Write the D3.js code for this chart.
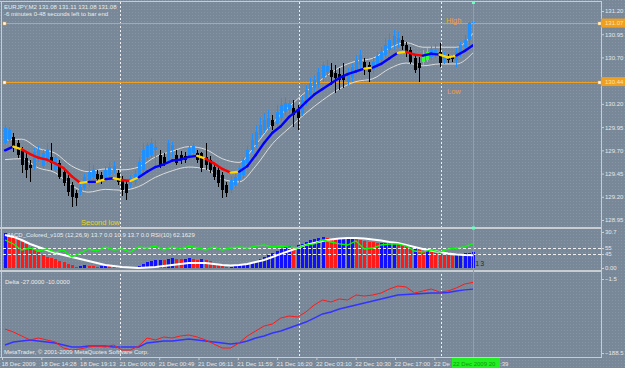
<!DOCTYPE html>
<html><head><meta charset="utf-8">
<script src="https://cdn.jsdelivr.net/npm/d3@7"></script>
<style>
body{margin:0;background:#778899;overflow:hidden}
svg{display:block}
text{font-family:"Liberation Sans",Arial,sans-serif}
</style>
</head><body>
<svg id="c" width="625" height="368"></svg>
<script>
// ---------- DATA ----------
const openP=[129.78,129.81,129.84,129.78,129.71,129.62,129.54,129.52,129.62,129.53,
129.60,129.63,129.49,129.56,129.47,129.40,129.33,129.24,129.25,129.29,
129.38,129.41,129.44,129.43,129.40,129.43,129.49,129.46,129.38,129.34,
129.33,129.36,129.41,129.49,129.63,129.65,129.70,129.65,129.63,129.60,
129.70,129.65,129.65,129.64,129.63,129.67,129.67,129.67,129.63,129.60,
129.52,129.49,129.43,129.33,129.27,129.33,129.38,129.43,129.56,129.70,
129.76,129.86,129.92,129.95,130.03,129.98,130.05,130.11,130.13,130.16,
130.13,130.10,130.21,130.30,130.37,130.40,130.48,130.54,130.56,130.53,
130.52,130.51,130.44,130.48,130.56,130.62,130.65,130.62,130.56,130.62,
130.67,130.73,130.78,130.83,130.87,130.89,130.83,130.78,130.69,130.64,
130.65,130.67,130.70,130.73,130.76,130.67,130.72,130.70,130.67,130.75,
130.81,130.89,131.08];
const highP=[129.97,129.95,129.89,129.81,129.74,129.67,129.60,129.72,129.75,129.70,
129.78,129.78,129.65,129.60,129.51,129.43,129.36,129.27,129.34,129.44,
129.57,129.54,129.49,129.47,129.53,129.57,129.59,129.49,129.42,129.37,
129.43,129.49,129.63,129.78,129.79,129.83,129.81,129.70,129.67,129.81,
129.79,129.70,129.69,129.68,129.76,129.78,129.70,129.68,129.78,129.64,
129.55,129.52,129.47,129.36,129.42,129.46,129.54,129.63,129.75,129.89,
129.97,130.06,130.10,130.13,130.08,130.19,130.26,130.27,130.24,130.24,
130.19,130.30,130.40,130.48,130.51,130.59,130.65,130.67,130.64,130.62,
130.59,130.64,130.59,130.64,130.73,130.78,130.69,130.65,130.69,130.76,
130.81,130.91,130.96,131.00,130.97,130.93,130.87,130.81,130.73,130.70,
130.78,130.80,130.82,130.84,130.86,130.76,130.74,130.73,130.80,130.87,
130.94,131.08,131.11];
const lowP=[129.76,129.79,129.68,129.62,129.46,129.40,129.36,129.49,129.57,129.51,
129.56,129.49,129.47,129.39,129.32,129.21,129.09,129.10,129.22,129.27,
129.31,129.38,129.36,129.34,129.37,129.40,129.46,129.33,129.21,129.17,
129.29,129.33,129.38,129.47,129.60,129.62,129.52,129.51,129.53,129.57,
129.62,129.54,129.55,129.56,129.60,129.63,129.56,129.47,129.49,129.46,
129.38,129.31,129.19,129.20,129.24,129.29,129.35,129.40,129.53,129.67,
129.72,129.83,129.89,129.92,129.92,129.95,130.02,130.08,130.07,129.95,
129.92,130.07,130.18,130.26,130.33,130.37,130.44,130.50,130.40,130.32,
130.35,130.37,130.40,130.44,130.53,130.56,130.51,130.44,130.52,130.59,
130.64,130.69,130.75,130.78,130.80,130.78,130.70,130.63,130.53,130.44,
130.62,130.65,130.67,130.69,130.60,130.63,130.64,130.65,130.60,130.70,
130.78,130.83,131.08];
const closeP=[129.94,129.92,129.72,129.65,129.54,129.49,129.51,129.68,129.70,129.67,
129.70,129.56,129.63,129.41,129.35,129.25,129.20,129.19,129.31,129.41,
129.47,129.49,129.39,129.38,129.49,129.52,129.53,129.36,129.27,129.24,
129.40,129.44,129.57,129.70,129.76,129.78,129.74,129.54,129.56,129.78,
129.76,129.56,129.60,129.60,129.72,129.75,129.60,129.51,129.54,129.49,
129.41,129.35,129.27,129.24,129.38,129.41,129.51,129.60,129.70,129.81,
129.90,129.97,130.03,130.05,129.96,130.11,130.19,130.21,130.21,130.08,
130.05,130.24,130.35,130.42,130.46,130.54,130.62,130.61,130.49,130.48,
130.46,130.46,130.54,130.60,130.67,130.73,130.59,130.54,130.65,130.72,
130.76,130.83,130.89,130.93,130.91,130.82,130.76,130.65,130.56,130.59,
130.74,130.76,130.79,130.78,130.64,130.72,130.67,130.68,130.76,130.83,
130.89,131.07,131.08];
const highlightBars=[100,101];

// moving average (every 2nd bar) and its trend state per segment
const maLine=[129.70,129.74,129.71,129.66,129.62,129.60,129.56,129.51,129.42,129.35,
129.36,129.36,129.39,129.40,129.38,129.37,129.41,129.47,129.52,129.55,
129.59,129.60,129.63,129.64,129.61,129.56,129.50,129.46,129.47,129.53,
129.65,129.78,129.89,129.96,130.06,130.13,130.22,130.30,130.36,130.42,
130.48,130.52,130.55,130.58,130.59,130.63,130.69,130.75,130.76,130.73,
130.72,130.74,130.73,130.70,130.72,130.77,130.83];
const maTrend=[1,0,-1,-1,-1,-1,-1,-1,-1,0,
1,0,1,0,-1,0,1,1,1,1,
1,1,1,0,-1,-1,-1,0,1,1,
1,1,1,1,1,1,1,1,1,1,
1,1,1,0,1,1,1,0,-1,-1,
1,1,0,0,1,1];
// envelope bands (every 4th bar)
const bandUpper=[129.81,129.82,129.72,129.67,129.53,129.47,129.50,129.49,129.52,129.63,
129.69,129.74,129.71,129.61,129.57,129.76,129.99,130.17,130.33,130.47,
130.59,130.66,130.69,130.80,130.86,130.81,130.81,130.81,130.96];
const bandLower=[129.60,129.61,129.51,129.46,129.32,129.25,129.28,129.27,129.31,129.41,
129.48,129.52,129.50,129.39,129.36,129.53,129.77,129.94,130.10,130.24,
130.36,130.44,130.47,130.58,130.64,130.61,130.63,130.63,130.75];

// MACD histogram (per bar), MACD line (every 2nd bar), RSI(10) (every 2nd bar)
const macdHist=[30,28.5,27,25,22.5,20.5,17.5,15,13.5,11,
9.8,8.8,7.5,6.2,5.2,3.6,2.2,1.2,1.8,2.5,
2.0,1.5,1.0,1.6,2.2,1.8,1.2,0.8,0.5,0.3,
0.8,0.5,1.5,3.5,5.0,6.0,6.8,7.2,6.8,7.5,
8.5,8.0,7.4,7.8,8.2,7.5,7.0,7.4,6.8,5.8,
4.5,3.0,1.8,0.8,1.2,2.0,2.8,3.4,3.8,4.5,
6.0,7.5,9.5,11.5,12.8,14.5,16.5,18.0,19.0,18.2,
19.5,20.5,22.0,23.5,24.5,25.5,26.5,25.8,25.0,24.6,
24.8,25.0,25.2,25.3,25.0,24.2,23.0,22.2,21.8,21.0,
21.3,21.6,21.8,22.0,21.2,20.0,18.8,17.5,17.8,16.0,
14.8,15.2,14.0,13.2,12.6,11.8,11.0,10.6,11.2,11.8,
12.4,13.0,13.7];
const macdLine=[28.2,26.5,23.9,20.5,17.9,15.4,12.8,11.1,9.4,7.7,
6.0,4.3,2.6,1.7,0.9,0.4,0,0.4,0.9,1.7,
2.6,3.4,4.3,4.3,4.3,3.4,2.6,2.1,2.6,3.4,
5.1,6.8,9.4,12.0,14.5,17.1,19.7,21.4,23.1,24.4,
25.2,25.6,25.6,25.2,24.4,23.5,22.2,21.4,19.7,17.9,
16.2,15.0,13.7,12.4,11.5,11.1,10.9];
const rsi=[68.3,61.7,51.7,55,50,53.3,48.3,51.7,40,46.7,
53.3,50,56.7,51.7,53.3,48.3,56.7,55,58.3,51.7,
56.7,53.3,58.3,55,51.7,56.7,51.7,55,56.7,55,
58.3,60,56.7,58.3,56.7,55,60,61.7,68.3,65,
61.7,60,66.7,53.3,55,60,61.7,61.7,58.3,50,
48.3,51.7,48.3,53.3,55,56.7,62.16];
const rsiLevels=[55,45];

// Delta indicator (every 2nd bar)
const deltaRed=[-127.9,-135.4,-145.5,-155.6,-150.6,-155.6,-160.7,-175.9,-180.9,-178.4,
-173.3,-170.8,-173.3,-168.3,-180.9,-180.9,-170.8,-150.6,-155.6,-148.1,
-150.6,-145.5,-143.0,-148.1,-155.6,-165.8,-175.9,-175.9,-163.2,-145.5,
-132.9,-120.3,-115.2,-100.1,-95.0,-97.5,-84.9,-67.2,-54.6,-59.6,
-52.0,-54.6,-41.9,-44.5,-41.9,-36.9,-26.8,-19.2,-21.7,-36.9,
-31.8,-26.8,-34.4,-31.8,-24.2,-14.1,-10.0];
const deltaBlue=[-168.3,-160.7,-158.2,-155.6,-158.2,-160.7,-163.2,-168.3,-173.3,-173.3,
-170.8,-170.8,-170.8,-173.3,-173.3,-173.3,-173.3,-163.2,-160.7,-158.2,
-158.2,-155.6,-153.1,-155.6,-158.2,-160.7,-163.2,-165.8,-163.2,-158.2,
-150.6,-145.5,-138.0,-132.9,-125.3,-117.7,-110.2,-100.1,-89.9,-84.9,
-77.3,-72.3,-67.2,-62.1,-57.1,-52.0,-47.0,-41.9,-40.7,-39.4,
-38.1,-36.9,-36.9,-35.6,-31.8,-29.0,-27.0];

// levels, axis ticks, labels
const highLevel=131.07, lowLevel=130.44;
const priceTicks=[131.20,130.95,130.70,130.45,130.20,129.95,129.70,129.45,129.20,128.95];
const histTicks=[30.7,0];
const deltaTicks=[-1.5,-188.5];
const separatorBars=[27.6,70.3,104.3];
const timeLabels=["18 Dec 2009","18 Dec 14:28","18 Dec 19:13","21 Dec 00:00","21 Dec 00:49","21 Dec 06:11","21 Dec 11:59","21 Dec 16:20","22 Dec 03:10","22 Dec 10:30","22 Dec 17:00","22 De"];
const currentTime=["22 Dec 2009 20",":39"];
const titleMain=["EURJPY,M2  131.08 131.11 131.08 131.08","-6 minutes 0-48 seconds left to bar end"];
const titleMacd="MACD_Colored_v105 (12,26,9) 13.7 0.0 10.9 13.7 0.0  RSI(10) 62.1629";
const titleDelta="Delta -27.0000 -10.0000";
const copyright="MetaTrader, \u00a9 2001-2009 MetaQuotes Software Corp.";

// ---------- DRAW ----------
const W=625,H=368;
const svg=d3.select("#c");
const defs=svg.append("defs");
const pat=defs.append("pattern").attr("id","dots").attr("width",3).attr("height",3).attr("patternUnits","userSpaceOnUse");
pat.append("rect").attr("width",3).attr("height",3).attr("fill","#788898");
pat.append("rect").attr("width",1).attr("height",1).attr("fill","#8595a5");
svg.append("rect").attr("width",W).attr("height",H).attr("fill","url(#dots)");

function clip(id,x0,y0,w,h){defs.append("clipPath").attr("id",id).append("rect").attr("x",x0).attr("y",y0).attr("width",w).attr("height",h);}
clip("cMain",2,2,599,225);
clip("cP2",2,229.5,599,40.5);
clip("cP3",2,272,599,85);

const N=closeP.length;
const barIdx=d3.range(N);
const lineIdx=d3.range(0,N,2);
const bandIdx=d3.range(0,N,4);

const x=d3.scaleLinear().domain([0,N-1]).range([5,473]);
const yMain=d3.scaleLinear().domain([128.95,131.20]).range([220,11]);
const yHist=d3.scaleLinear().domain([0,30.7]).range([268,232]);
const yRsi=d3.scaleLinear().domain([45,55]).range([254,248]);
const yDelta=d3.scaleLinear().domain([-188.5,-1.5]).range([353,279]);
const timeX=d3.scalePoint().domain(timeLabels).range([2,2+39.3*11]);

// period separators
svg.append("g").selectAll("line").data(separatorBars).join("line")
  .attr("x1",d=>Math.round(x(d))+0.5).attr("x2",d=>Math.round(x(d))+0.5)
  .attr("y1",2).attr("y2",357).attr("stroke","#f0f0f0").attr("stroke-width",1).attr("stroke-dasharray","2,2");

// ---- main panel ----
const gM=svg.append("g").attr("clip-path","url(#cMain)");
[highLevel,lowLevel].forEach(v=>{
  const yy=Math.round(yMain(v))+0.5;
  gM.append("line").attr("x1",3).attr("x2",601).attr("y1",yy).attr("y2",yy).attr("stroke","#f0a020").attr("stroke-width",1);
  [3,598].forEach(xx=>gM.append("rect").attr("x",xx).attr("y",yy-1.5).attr("width",3).attr("height",3).attr("fill","#ffffff").attr("stroke","#f0a020").attr("stroke-width",0.5));
});
const bandLine=d3.line().curve(d3.curveMonotoneX).x((d,k)=>x(bandIdx[k])).y(d=>yMain(d));
[bandUpper,bandLower].forEach(b=>gM.append("path").attr("d",bandLine(b)).attr("fill","none").attr("stroke","#dcdcdc").attr("stroke-width",1));
const bull=i=>closeP[i]>=openP[i];
const cCol=i=>highlightBars.includes(i)?"#33ff33":(bull(i)?"#1e90ff":"#000000");
gM.append("g").selectAll("line").data(barIdx).join("line")
  .attr("x1",i=>Math.round(x(i))+0.5).attr("x2",i=>Math.round(x(i))+0.5)
  .attr("y1",i=>yMain(highP[i])).attr("y2",i=>yMain(lowP[i]))
  .attr("stroke",cCol).attr("stroke-width",1).attr("shape-rendering","crispEdges");
gM.append("g").selectAll("rect").data(barIdx).join("rect")
  .attr("x",i=>Math.round(x(i))-1).attr("width",3)
  .attr("y",i=>yMain(Math.max(openP[i],closeP[i])))
  .attr("height",i=>Math.max(1,Math.abs(yMain(openP[i])-yMain(closeP[i]))))
  .attr("fill",cCol).attr("shape-rendering","crispEdges");
const trendCol=t=>t>0?"#0000ff":(t<0?"#ff0000":"#ffd700");
gM.append("g").selectAll("line").data(d3.range(maLine.length-1)).join("line")
  .attr("x1",s=>x(lineIdx[s])).attr("x2",s=>x(lineIdx[s+1]))
  .attr("y1",s=>yMain(maLine[s])).attr("y2",s=>yMain(maLine[s+1]))
  .attr("stroke",s=>trendCol(maTrend[s])).attr("stroke-width",2.4).attr("stroke-linecap","round");
gM.append("text").attr("x",446).attr("y",yMain(highLevel)).text("High").attr("fill","#f0a030").style("font-size","7.5px");
gM.append("text").attr("x",447).attr("y",yMain(lowLevel)+12).text("Low").attr("fill","#f0a030").style("font-size","7.5px");
gM.append("text").attr("x",81).attr("y",225).text("Second low").attr("fill","#e8d030").style("font-size","7.5px");
titleMain.forEach((t,k)=>svg.append("text").attr("x",4).attr("y",9+k*7).text(t).attr("fill","#ececec").style("font-size","6px"));

// ---- MACD panel ----
svg.append("text").attr("x",5).attr("y",237).text(titleMacd).attr("fill","#ececec").style("font-size","6px");
const g2=svg.append("g").attr("clip-path","url(#cP2)");
g2.append("g").selectAll("rect").data(barIdx).join("rect")
  .attr("x",i=>Math.round(x(i))-1).attr("width",3)
  .attr("y",i=>yHist(macdHist[i])).attr("height",i=>yHist(0)-yHist(macdHist[i]))
  .attr("fill",i=>(i===0||macdHist[i]>=macdHist[i-1])?"#1010ff":"#ff1a1a").attr("shape-rendering","crispEdges");
g2.append("g").selectAll("line").data(rsiLevels).join("line")
  .attr("x1",3).attr("x2",601).attr("y1",d=>Math.round(yRsi(d))+0.5).attr("y2",d=>Math.round(yRsi(d))+0.5)
  .attr("stroke","#f0f0f0").attr("stroke-dasharray","3,2").attr("stroke-width",1);
g2.append("path").attr("d",d3.line().x((d,k)=>x(lineIdx[k])).y(d=>yHist(d))(macdLine))
  .attr("fill","none").attr("stroke","#ffffff").attr("stroke-width",2);
g2.append("path").attr("d",d3.line().x((d,k)=>x(lineIdx[k])).y(d=>yRsi(d))(rsi))
  .attr("fill","none").attr("stroke","#00ff00").attr("stroke-width",1.3);
g2.append("text").attr("x",472).attr("y",266).text("-13").attr("fill","#2a2a2a").style("font-size","7px").style("letter-spacing","1px");

// ---- Delta panel ----
svg.append("text").attr("x",5).attr("y",284).text(titleDelta).attr("fill","#ececec").style("font-size","6px");
const g3=svg.append("g").attr("clip-path","url(#cP3)");
g3.append("path").attr("d",d3.line().x((d,k)=>x(lineIdx[k])).y(d=>yDelta(d))(deltaBlue))
  .attr("fill","none").attr("stroke","#3333ff").attr("stroke-width",1.4);
g3.append("path").attr("d",d3.line().x((d,k)=>x(lineIdx[k])).y(d=>yDelta(d))(deltaRed))
  .attr("fill","none").attr("stroke","#ff1a1a").attr("stroke-width",1);
svg.append("text").attr("x",4).attr("y",354).text(copyright).attr("fill","#ececec").style("font-size","6px");

// ---- frames ----
const fr="#c8cdd2";
svg.append("rect").attr("x",0).attr("y",227).attr("width",602).attr("height",2).attr("fill",fr);
svg.append("rect").attr("x",0).attr("y",270).attr("width",602).attr("height",2).attr("fill",fr);
svg.append("line").attr("x1",601.5).attr("x2",601.5).attr("y1",1).attr("y2",358).attr("stroke",fr);
svg.append("line").attr("x1",0).attr("x2",602).attr("y1",357.5).attr("y2",357.5).attr("stroke",fr);
svg.append("line").attr("x1",0).attr("x2",602).attr("y1",1.5).attr("y2",1.5).attr("stroke",fr);
svg.append("line").attr("x1",1.5).attr("x2",1.5).attr("y1",1).attr("y2",358).attr("stroke",fr);

const xc=Math.round(x(N-1))+0.5;
svg.append("line").attr("x1",xc).attr("x2",xc).attr("y1",2).attr("y2",357).attr("stroke","#2fd49a").attr("stroke-width",1);
[1,226.5].forEach(yy=>svg.append("rect").attr("x",xc-1.5).attr("y",yy).attr("width",3).attr("height",3).attr("fill","#6dffc0"));

// ---- axes ----
function styleAxis(g){
  g.select(".domain").remove();
  g.selectAll("line").attr("stroke",fr);
  g.selectAll("text").attr("fill","#e6e6e6").style("font-size","6px").style("font-family","Liberation Sans, Arial, sans-serif");
}
svg.append("g").attr("transform","translate(601,0)")
  .call(d3.axisRight(yMain).tickValues(priceTicks).tickSize(3).tickPadding(1).tickFormat(d3.format(".2f"))).call(styleAxis);
svg.append("g").attr("transform","translate(601,0)")
  .call(d3.axisRight(yHist).tickValues(histTicks).tickSize(3).tickPadding(1).tickFormat(d=>d===0?"0.00":d3.format(".1f")(d))).call(styleAxis);
svg.append("g").attr("transform","translate(601,0)")
  .call(d3.axisRight(yRsi).tickValues(rsiLevels).tickSize(3).tickPadding(1).tickFormat(d3.format("d"))).call(styleAxis);
svg.append("g").attr("transform","translate(601,0)")
  .call(d3.axisRight(yDelta).tickValues(deltaTicks).tickSize(3).tickPadding(1).tickFormat(d3.format(".1f"))).call(styleAxis);
[highLevel,lowLevel].forEach(v=>{
  const yy=yMain(v);
  svg.append("rect").attr("x",601).attr("y",yy-4.5).attr("width",24).attr("height",9).attr("fill","#f0a020");
  svg.append("text").attr("x",605).attr("y",yy+2).text(d3.format(".2f")(v)).attr("fill","#fde3a7").style("font-size","6px");
});
const gt=svg.append("g").attr("transform","translate(0,357)")
  .call(d3.axisBottom(timeX).tickSize(3).tickPadding(2)).call(styleAxis);
gt.selectAll("text").attr("text-anchor","start").attr("x",-1);
svg.append("rect").attr("x",452).attr("y",358).attr("width",48).attr("height",10).attr("fill","#22ee22");
svg.append("text").attr("x",453).attr("y",366).text(currentTime[0]).attr("fill","#119911").style("font-size","6px");
svg.append("text").attr("x",500).attr("y",366).text(currentTime[1]).attr("fill","#e6e6e6").style("font-size","6px");
</script>
</body></html>
